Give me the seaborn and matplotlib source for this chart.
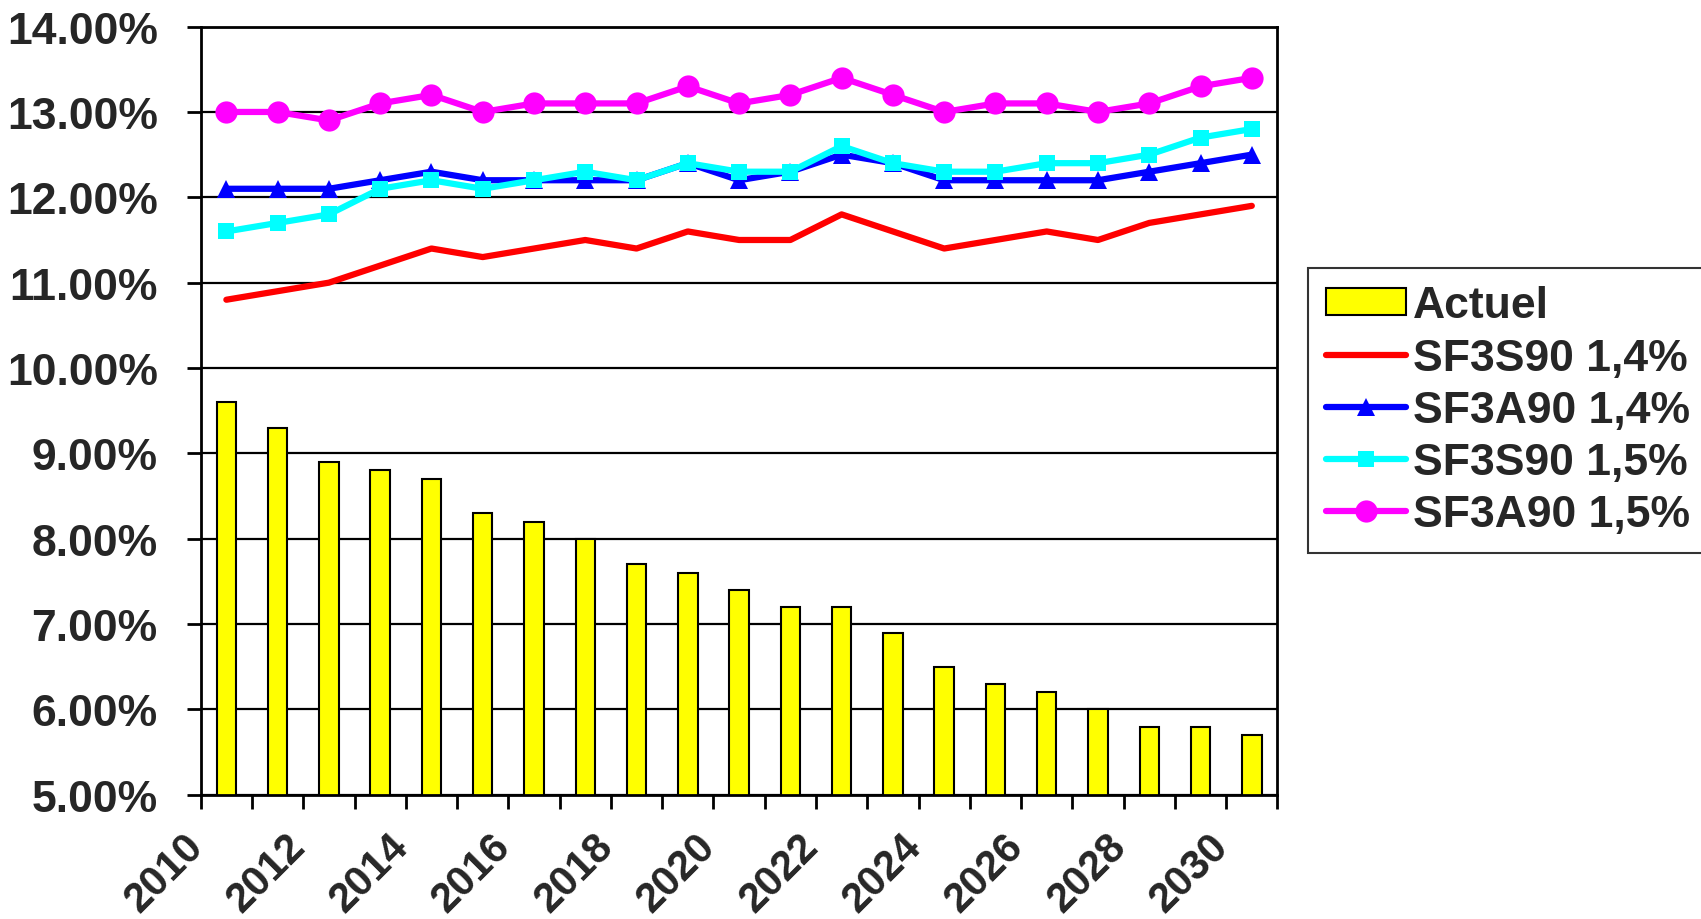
import matplotlib
matplotlib.use('Agg')
import matplotlib.pyplot as plt
import matplotlib.transforms as mtransforms
import seaborn as sns
import numpy as np
from matplotlib.patches import Patch
from matplotlib.lines import Line2D
from matplotlib.ticker import FuncFormatter

years = list(range(2010, 2031))
actuel = [9.6, 9.3, 8.9, 8.8, 8.7, 8.3, 8.2, 8.0, 7.7, 7.6, 7.4,
          7.2, 7.2, 6.9, 6.5, 6.3, 6.2, 6.0, 5.8, 5.8, 5.7]
sf3s90_14 = [10.8, 10.9, 11.0, 11.2, 11.4, 11.3, 11.4, 11.5, 11.4, 11.6, 11.5,
             11.5, 11.8, 11.6, 11.4, 11.5, 11.6, 11.5, 11.7, 11.8, 11.9]
sf3a90_14 = [12.1, 12.1, 12.1, 12.2, 12.3, 12.2, 12.2, 12.2, 12.2, 12.4, 12.2,
             12.3, 12.5, 12.4, 12.2, 12.2, 12.2, 12.2, 12.3, 12.4, 12.5]
sf3s90_15 = [11.6, 11.7, 11.8, 12.1, 12.2, 12.1, 12.2, 12.3, 12.2, 12.4, 12.3,
             12.3, 12.6, 12.4, 12.3, 12.3, 12.4, 12.4, 12.5, 12.7, 12.8]
sf3a90_15 = [13.0, 13.0, 12.9, 13.1, 13.2, 13.0, 13.1, 13.1, 13.1, 13.3, 13.1,
             13.2, 13.4, 13.2, 13.0, 13.1, 13.1, 13.0, 13.1, 13.3, 13.4]

sns.set_style('white')
plt.rcParams['font.family'] = ['Liberation Sans', 'DejaVu Sans']
plt.rcParams['font.weight'] = 'bold'

fig = plt.figure(figsize=(17.01, 9.2), dpi=100)
ax = fig.add_axes([0.118, 0.135, 0.633, 0.835])

pos = np.arange(len(years))
sns.barplot(x=[str(y) for y in years], y=actuel, color='#ffff00', saturation=1,
            edgecolor='black', linewidth=1.5, width=0.38, ax=ax, zorder=2)

series = [
    (sf3s90_14, '#ff0000', None, 0, 'SF3S90 1,4%'),
    (sf3a90_14, '#0000ff', '^', 13, 'SF3A90 1,4%'),
    (sf3s90_15, '#00ffff', 's', 12, 'SF3S90 1,5%'),
    (sf3a90_15, '#ff00ff', 'o', 16, 'SF3A90 1,5%'),
]
for vals, col, mk, ms, lab in series:
    sns.lineplot(x=pos, y=vals, color=col, linewidth=4.5, marker=mk, markersize=ms,
                 markeredgecolor=col, markeredgewidth=0, ax=ax, zorder=3)

ax.set_ylim(5, 14)
ax.set_yticks(np.arange(5, 15, 1))
ax.yaxis.set_major_formatter(FuncFormatter(lambda v, p: f'{v:.2f}%'))
ax.set_xlim(-0.5, len(years) - 0.5)
bounds = np.arange(len(years) + 1) - 0.5
ax.set_xticks(bounds)
ax.set_xticklabels([str(years[i]) if i < len(years) and i % 2 == 0 else ''
                    for i in range(len(bounds))])
ax.tick_params(axis='x', direction='out', length=10, width=2, color='black',
               labelsize=30, pad=12)
ax.tick_params(axis='y', direction='out', length=10, width=2, color='black',
               labelsize=32, pad=21)
ax.tick_params(bottom=True, left=True)
shift = mtransforms.ScaledTranslation(-0.18, 0, fig.dpi_scale_trans)
for t in ax.get_xticklabels():
    t.set_rotation(45)
    t.set_ha('right')
    t.set_va('top')
    t.set_rotation_mode('anchor')
    t.set_transform(t.get_transform() + shift)
ax.grid(axis='y', color='black', linewidth=1.6, zorder=1)
ax.set_axisbelow(True)
for s in ax.spines.values():
    s.set_visible(True)
    s.set_color('black')
    s.set_linewidth(2)
ax.set_xlabel('')
ax.set_ylabel('')

handles = [Patch(facecolor='#ffff00', edgecolor='black', linewidth=1.5, label='Actuel')]
for vals, col, mk, ms, lab in series:
    handles.append(Line2D([0], [0], color=col, linewidth=4.5, marker=mk, markersize=ms,
                          markeredgewidth=0, label=lab))
leg = fig.legend(handles=handles, loc='upper left', bbox_to_anchor=(0.769, 0.708),
                 fontsize=32, frameon=True, fancybox=False, handlelength=1.8,
                 handleheight=0.55, labelspacing=0.25, borderpad=0.4,
                 handletextpad=0.15, borderaxespad=0)
leg.get_frame().set_edgecolor('black')
leg.get_frame().set_linewidth(1.5)
for t in leg.get_texts():
    t.set_fontweight('bold')

fig.savefig('out.png', dpi=100)
